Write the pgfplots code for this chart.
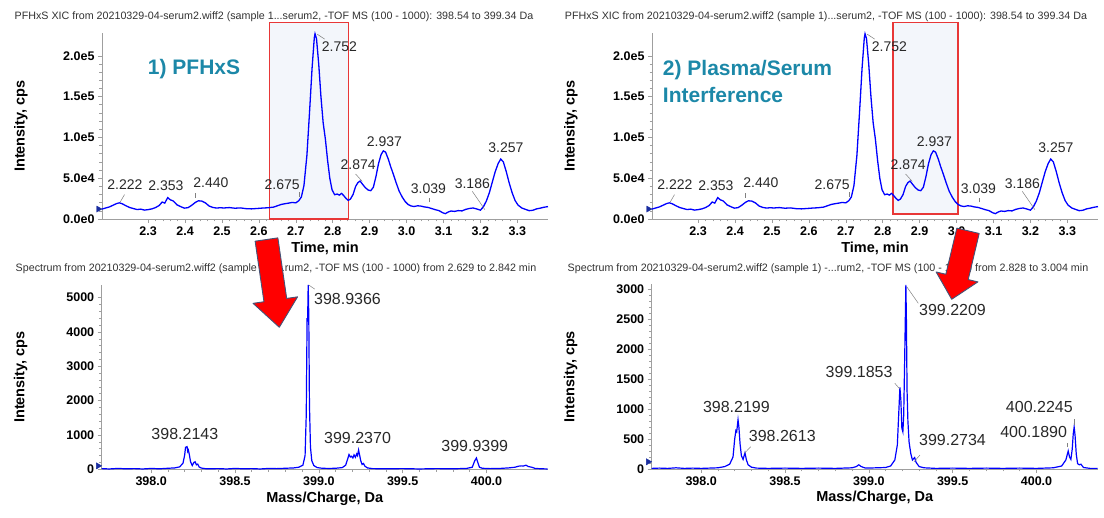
\documentclass[border=0pt]{standalone}
\usepackage{fontspec}
\setmainfont{Liberation Sans}
\usepackage{pgfplots}
\usepackage{pgfplotstable}
\pgfplotsset{compat=1.18}
\definecolor{teal1}{RGB}{28,136,168}
\definecolor{boxfill}{RGB}{243,246,251}
\definecolor{boxred}{RGB}{232,55,55}
\definecolor{arrowedge}{RGB}{68,84,120}
\definecolor{markblue}{RGB}{25,45,160}
\definecolor{annot}{RGB}{40,40,40}
\definecolor{titlegray}{RGB}{50,50,50}

\pgfplotstableread{
t I
2.175 12200
2.185 13500
2.195 14800
2.205 16900
2.215 19000
2.222 19800
2.230 18600
2.240 16200
2.250 14100
2.260 12800
2.270 11600
2.280 12100
2.290 10900
2.300 11500
2.310 12400
2.320 14000
2.330 16600
2.338 20800
2.345 19500
2.353 26200
2.360 23500
2.368 22100
2.378 17400
2.388 15200
2.398 13300
2.408 13900
2.418 16800
2.428 20400
2.436 22300
2.445 22000
2.455 19800
2.465 15900
2.475 14200
2.485 13400
2.495 13800
2.505 13500
2.520 14000
2.535 13200
2.550 13600
2.565 12700
2.580 12400
2.595 12900
2.610 13400
2.625 13800
2.640 14600
2.650 16200
2.660 17800
2.670 18700
2.680 19400
2.690 20300
2.700 19800
2.708 22400
2.715 27000
2.722 41000
2.730 78000
2.737 130000
2.744 185000
2.750 222000
2.752 227000
2.756 221000
2.762 190000
2.768 150000
2.774 118000
2.780 98000
2.786 72000
2.792 50000
2.798 36000
2.805 29800
2.812 30600
2.818 29300
2.824 31400
2.830 28500
2.836 25200
2.842 22800
2.848 24500
2.855 30000
2.862 40000
2.868 44500
2.874 46500
2.880 43000
2.888 38500
2.896 35500
2.903 34700
2.910 39000
2.917 52000
2.924 68000
2.931 79000
2.937 83500
2.943 82000
2.950 74000
2.957 64000
2.964 55000
2.972 44000
2.980 34000
2.988 27000
2.996 21500
3.004 17800
3.012 16000
3.020 15300
3.030 16200
3.039 15800
3.048 14800
3.058 14200
3.068 12800
3.078 11400
3.088 10200
3.098 7600
3.105 6600
3.112 8400
3.120 9800
3.130 9300
3.140 10300
3.150 9900
3.160 11800
3.170 12900
3.180 13500
3.190 12300
3.200 10800
3.208 15000
3.216 22000
3.224 32000
3.232 45000
3.240 58000
3.248 68000
3.255 73500
3.262 70000
3.270 58000
3.278 44000
3.286 32000
3.294 22500
3.302 17000
3.312 13500
3.322 11800
3.332 10200
3.342 10700
3.352 12400
3.362 13300
3.372 14400
3.383 15200
}\xic

\pgfplotstableread{
mz I
397.705 20
397.75 10
397.80 25
397.85 15
397.90 20
397.95 10
398.00 25
398.05 15
398.10 30
398.14 40
398.17 70
398.19 180
398.200 420
398.205 640
398.2143 660
398.218 520
398.222 560
398.228 420
398.235 220
398.245 110
398.255 200
398.262 220
398.27 130
398.278 150
398.286 70
398.30 35
398.33 15
398.40 20
398.45 10
398.50 25
398.55 15
398.60 20
398.65 10
398.70 25
398.75 20
398.80 30
398.85 40
398.88 60
398.905 120
398.918 400
398.925 1600
398.930 4400
398.933 4300
398.9366 5370
398.940 4500
398.944 1900
398.950 650
398.958 250
398.97 110
398.99 50
399.02 30
399.06 25
399.10 30
399.14 50
399.16 120
399.172 300
399.180 430
399.188 360
399.195 380
399.203 330
399.210 420
399.218 350
399.226 450
399.231 400
399.237 560
399.243 420
399.250 250
399.258 140
399.266 170
399.275 90
399.29 40
399.32 20
399.40 15
399.50 20
399.60 10
399.70 20
399.80 15
399.88 25
399.915 60
399.930 250
399.9399 330
399.948 200
399.958 60
399.975 30
400.02 20
400.08 25
400.13 40
400.17 60
400.19 90
400.21 100
400.22 95
400.235 120
400.25 80
400.27 60
400.29 25
400.33 15
400.365 10
}\specA

\pgfplotstableread{
mz I
397.705 10
397.75 15
397.80 10
397.85 20
397.90 10
397.95 15
398.00 10
398.05 15
398.10 20
398.14 40
398.17 80
398.19 200
398.200 500
398.207 640
398.212 620
398.2199 820
398.225 700
398.232 420
398.24 220
398.25 160
398.2613 270
398.27 150
398.28 70
398.30 30
398.33 15
398.40 10
398.50 15
398.60 10
398.70 15
398.80 10
398.90 20
398.925 40
398.94 70
398.955 40
398.98 15
399.05 20
399.10 25
399.13 50
399.155 150
399.170 400
399.178 900
399.1853 1360
399.191 1150
399.197 680
399.203 620
399.208 900
399.213 1700
399.217 2400
399.2209 3070
399.224 2500
399.228 1300
399.233 800
399.240 450
399.250 260
399.260 150
399.2734 190
399.282 110
399.30 40
399.33 20
399.40 10
399.50 15
399.60 10
399.70 15
399.80 10
399.90 15
400.00 10
400.10 20
400.15 50
400.175 150
400.189 300
400.197 200
400.205 160
400.213 330
400.219 580
400.2245 700
400.230 560
400.237 250
400.245 90
400.255 70
400.265 80
400.28 25
400.32 10
400.365 10
}\specB

\tikzset{
  tl/.style={anchor=center, font=\fontsize{14}{16}\selectfont, text=annot, inner sep=0pt},
  sl/.style={anchor=center, font=\fontsize{16}{18}\selectfont, text=annot, inner sep=0pt},
  lead/.style={gray, line width=0.5pt},
  ttl/.style={font=\fontsize{10.7}{12}\selectfont, text=titlegray},
}

\pgfplotsset{
  panel/.style={
    scale only axis, width=446pt,
    axis lines*=left,
    axis line style={gray!75, line width=0.8pt},
    tick align=outside,
    tick style={gray!75, line width=0.6pt},
    major tick length=4pt, minor tick length=2.5pt,
    minor x tick num=4, minor y tick num=4,
    scaled ticks=false,
    ticklabel style={font=\fontsize{12.5}{14}\selectfont\bfseries},
    label style={font=\fontsize{14.5}{16}\selectfont\bfseries},
    ylabel style={at={(axis description cs:-0.182,0.5)}, anchor=center},
    xlabel style={at={(axis description cs:0.5,0)}, anchor=center, yshift=-29pt},
    clip=false, ymin=0,
  },
  xicpanel/.style={
    panel, height=186pt, xmin=2.175, xmax=3.383, ymax=228000,
    xtick={2.3,2.4,2.5,2.6,2.7,2.8,2.9,3.0,3.1,3.2,3.3},
    xticklabels={2.3,2.4,2.5,2.6,2.7,2.8,2.9,3.0,3.1,3.2,3.3},
    ytick={0,50000,100000,150000,200000},
    yticklabels={0.0e0,5.0e4,1.0e5,1.5e5,2.0e5},
    xlabel={Time, min}, ylabel={Intensity, cps},
  },
  specpanel/.style={
    panel, height=184.5pt, xmin=397.705, xmax=400.365,
    xtick={398,398.5,399,399.5,400},
    xticklabels={398.0,398.5,399.0,399.5,400.0},
    xlabel={Mass/Charge, Da}, ylabel={Intensity, cps},
  },
}

\begin{document}
\begin{tikzpicture}
\path[use as bounding box] (0,0) rectangle (1104pt,-518pt);

\node[ttl] at (274pt,-17pt) {PFHxS XIC from 20210329-04-serum2.wiff2 (sample 1...serum2, -TOF MS (100 - 1000): 398.54 to 399.34 Da};
\node[ttl] at (826pt,-17pt) {PFHxS XIC from 20210329-04-serum2.wiff2 (sample 1)...serum2, -TOF MS (100 - 1000): 398.54 to 399.34 Da};
\node[ttl] at (276pt,-268.5pt) {Spectrum from 20210329-04-serum2.wiff2 (sample 1) -...rum2, -TOF MS (100 - 1000) from 2.629 to 2.842 min};
\node[ttl] at (828pt,-268.5pt) {Spectrum from 20210329-04-serum2.wiff2 (sample 1) -...rum2, -TOF MS (100 - 1000) from 2.828 to 3.004 min};

% ---------- top left ----------
\begin{axis}[xicpanel, at={(102pt,-219pt)}, anchor=south west]
\fill[boxfill] (axis cs:2.629,0) rectangle (axis cs:2.842,240500);
\draw[boxred, line width=1.4pt] (axis cs:2.629,0) rectangle (axis cs:2.842,240500);
\addplot[blue, line width=1.3pt] table[x=t, y=I] {\xic};
\addplot[only marks, mark=triangle*, mark size=3.5pt, mark options={rotate=-90, fill=markblue, draw=markblue}] coordinates {(2.1655,12200)};
\node[anchor=west, font=\fontsize{21}{25}\selectfont\bfseries, text=teal1] at (axis cs:2.29,183700) {1) PFHxS};
\node[tl] at (axis cs:2.237,41700) {2.222};
\draw[lead] (axis cs:2.224,20500) -- (axis cs:2.236,30000);
\node[tl] at (axis cs:2.348,40900) {2.353};
\node[tl] at (axis cs:2.470,45000) {2.440};
\draw[lead] (axis cs:2.428,26000) -- (axis cs:2.428,32000);
\node[tl] at (axis cs:2.663,42500) {2.675};
\draw[lead] (axis cs:2.708,27000) -- (axis cs:2.708,33000);
\node[tl] at (axis cs:2.818,211400) {2.752};
\draw[lead] (axis cs:2.758,226500) -- (axis cs:2.778,220500);
\node[tl] at (axis cs:2.869,67100) {2.874};
\draw[lead] (axis cs:2.862,55100) -- (axis cs:2.880,46000);
\node[tl] at (axis cs:2.940,95100) {2.937};
\node[tl] at (axis cs:3.059,36700) {3.039};
\draw[lead] (axis cs:3.062,20400) -- (axis cs:3.062,25300);
\node[tl] at (axis cs:3.178,43700) {3.186};
\draw[lead] (axis cs:3.178,33900) -- (axis cs:3.212,11500);
\node[tl] at (axis cs:3.269,87800) {3.257};
\end{axis}

% ---------- top right ----------
\begin{axis}[xicpanel, at={(652pt,-219pt)}, anchor=south west]
\fill[boxfill] (axis cs:2.828,6000) rectangle (axis cs:3.004,240500);
\draw[boxred, line width=1.4pt] (axis cs:2.828,6000) rectangle (axis cs:3.004,240500);
\addplot[blue, line width=1.3pt] table[x=t, y=I] {\xic};
\addplot[only marks, mark=triangle*, mark size=3.5pt, mark options={rotate=-90, fill=markblue, draw=markblue}] coordinates {(2.1655,12200)};
\node[anchor=west, align=left, font=\fontsize{21}{27}\selectfont\bfseries, text=teal1] at (axis cs:2.195,168400) {2) Plasma/Serum\\Interference};
\node[tl] at (axis cs:2.237,41700) {2.222};
\draw[lead] (axis cs:2.224,20500) -- (axis cs:2.236,30000);
\node[tl] at (axis cs:2.348,40900) {2.353};
\node[tl] at (axis cs:2.470,45000) {2.440};
\draw[lead] (axis cs:2.428,26000) -- (axis cs:2.428,32000);
\node[tl] at (axis cs:2.663,42500) {2.675};
\draw[lead] (axis cs:2.708,27000) -- (axis cs:2.708,33000);
\node[tl] at (axis cs:2.818,211400) {2.752};
\draw[lead] (axis cs:2.758,226500) -- (axis cs:2.778,220500);
\node[tl] at (axis cs:2.869,67100) {2.874};
\draw[lead] (axis cs:2.862,55100) -- (axis cs:2.880,46000);
\node[tl] at (axis cs:2.940,95100) {2.937};
\node[tl] at (axis cs:3.059,36700) {3.039};
\draw[lead] (axis cs:3.062,20400) -- (axis cs:3.062,25300);
\node[tl] at (axis cs:3.178,43700) {3.186};
\draw[lead] (axis cs:3.178,33900) -- (axis cs:3.212,11500);
\node[tl] at (axis cs:3.269,87800) {3.257};
\end{axis}

% ---------- bottom left ----------
\begin{axis}[specpanel, at={(101.7pt,-469.3pt)}, anchor=south west, ymax=5374,
  ytick={0,1000,2000,3000,4000,5000}, yticklabels={0,1000,2000,3000,4000,5000}]
\addplot[blue, line width=1.2pt] table[x=mz, y=I] {\specA};
\addplot[only marks, mark=triangle*, mark size=3.5pt, mark options={rotate=-90, fill=markblue, draw=markblue}] coordinates {(397.684,100)};
\node[sl] at (axis cs:399.171,4952) {398.9366};
\draw[lead] (axis cs:398.940,5368) -- (axis cs:398.975,5250);
\node[sl] at (axis cs:398.201,1028) {398.2143};
\node[sl] at (axis cs:399.231,903) {399.2370};
\node[sl] at (axis cs:399.930,679) {399.9399};
\end{axis}

% ---------- bottom right ----------
\begin{axis}[specpanel, at={(651.7pt,-469pt)}, anchor=south west, ymax=3075,
  ytick={0,500,1000,1500,2000,2500,3000}, yticklabels={0,500,1000,1500,2000,2500,3000}]
\addplot[blue, line width=1.2pt] table[x=mz, y=I] {\specB};
\addplot[only marks, mark=triangle*, mark size=3.5pt, mark options={rotate=-90, fill=markblue, draw=markblue}] coordinates {(397.684,120)};
\node[sl] at (axis cs:399.499,2650) {399.2209};
\draw[lead] (axis cs:399.226,3038) -- (axis cs:399.295,2762);
\node[sl] at (axis cs:398.942,1622) {399.1853};
\draw[lead] (axis cs:399.155,1428) -- (axis cs:399.185,1333);
\node[sl] at (axis cs:398.210,1028) {398.2199};
\node[sl] at (axis cs:398.484,555) {398.2613};
\draw[lead] (axis cs:398.258,262) -- (axis cs:398.296,372);
\node[sl] at (axis cs:399.499,483) {399.2734};
\draw[lead] (axis cs:399.270,122) -- (axis cs:399.305,233);
\node[sl] at (axis cs:400.017,1038) {400.2245};
\draw[lead] (axis cs:400.225,733) -- (axis cs:400.225,828);
\node[sl] at (axis cs:399.983,622) {400.1890};
\draw[lead] (axis cs:400.185,362) -- (axis cs:400.185,438);
\end{axis}

% ---------- red block arrows ----------
\draw[fill=red, draw=arrowedge, line width=0.9pt, line join=round, shift={(279.3pt,-327.3pt)}, rotate=-81.7]
  (0,0) -- (-27.5pt,22.5pt) -- (-27.5pt,11.5pt) -- (-88.7pt,11.5pt) -- (-88.7pt,-11.5pt) -- (-27.5pt,-11.5pt) -- (-27.5pt,-22.5pt) -- cycle;
\draw[fill=red, draw=arrowedge, line width=0.9pt, line join=round, shift={(951.7pt,-299.3pt)}, rotate=-103.4]
  (0,0) -- (-23pt,21.5pt) -- (-23pt,11.5pt) -- (-70.4pt,11.5pt) -- (-70.4pt,-11.5pt) -- (-23pt,-11.5pt) -- (-23pt,-21.5pt) -- cycle;
\end{tikzpicture}
\end{document}
